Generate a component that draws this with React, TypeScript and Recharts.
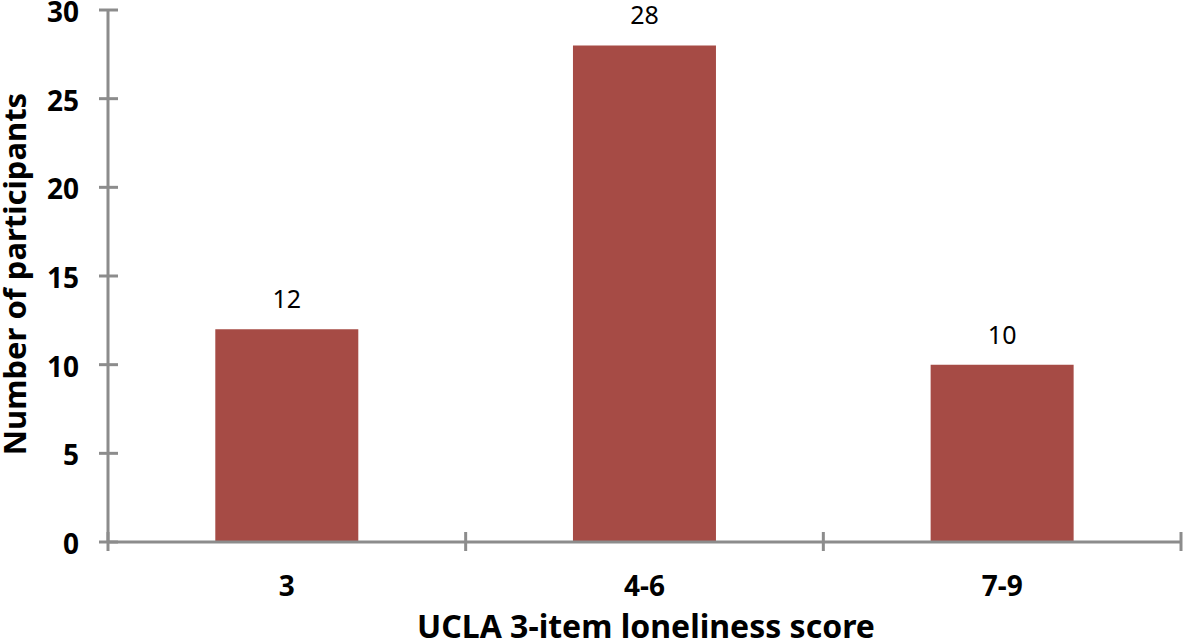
import { BarChart, Bar, XAxis, YAxis, LabelList } from "recharts";

const scoreGroups = ["3", "4-6", "7-9"];
const participants = [12, 28, 10];
const yTicks = [0, 5, 10, 15, 20, 25, 30];

const data = scoreGroups.map((g, i) => ({ group: g, count: participants[i] }));

const W = 1183;
const H = 643;
const LEFT = 108;
const RIGHT_MARGIN = 2;
const BAND = (W - LEFT - RIGHT_MARGIN) / scoreGroups.length;
const AXIS = "#8c8c8c";
const FONT = "'Noto Sans', sans-serif";

function YTick(props: any) {
  const { x, y, payload } = props;
  return (
    <g>
      <line x1={x - 9} x2={x + 10} y1={y} y2={y} stroke={AXIS} strokeWidth={3} />
      <text x={x - 29} y={y} dy={12} textAnchor="end" fontSize={28} fontWeight={700} fontFamily={FONT} fill="#000">
        {payload.value}
      </text>
    </g>
  );
}

function XTick(props: any) {
  const { x, y, payload, index } = props;
  const last = index === scoreGroups.length - 1;
  return (
    <g>
      <line x1={x - BAND / 2} x2={x - BAND / 2} y1={y - 10} y2={y + 9} stroke={AXIS} strokeWidth={3} />
      {last && <line x1={x + BAND / 2} x2={x + BAND / 2} y1={y - 10} y2={y + 9} stroke={AXIS} strokeWidth={3} />}
      <text x={x} y={y + 54} textAnchor="middle" fontSize={28} fontWeight={700} fontFamily={FONT} fill="#000">
        {payload.value}
      </text>
    </g>
  );
}

const yTitle = () => (
  <text
    transform="translate(26,274) rotate(-90)"
    textAnchor="middle"
    fontSize={31}
    fontWeight={700}
    fontFamily={FONT}
    fill="#000"
  >
    Number of participants
  </text>
);

const xTitle = () => (
  <text x={646} y={638} textAnchor="middle" fontSize={32} fontWeight={700} fontFamily={FONT} fill="#000">
    UCLA 3-item loneliness score
  </text>
);

export default function App() {
  return (
    <div style={{ position: "absolute", left: 0, top: 0, width: W, height: H, background: "#fff" }}>
      <BarChart
        width={W}
        height={H}
        data={data}
        margin={{ top: 10, right: RIGHT_MARGIN, left: 0, bottom: 0 }}
        barCategoryGap="30%"
      >
        <XAxis
          dataKey="group"
          height={101}
          tickLine={false}
          tickSize={0}
          tickMargin={0}
          axisLine={{ stroke: AXIS, strokeWidth: 3 }}
          tick={<XTick />}
          interval={0}
          label={{ content: xTitle }}
        />
        <YAxis
          width={LEFT}
          domain={[0, 30]}
          ticks={yTicks}
          tickLine={false}
          tickSize={0}
          tickMargin={0}
          axisLine={{ stroke: AXIS, strokeWidth: 3 }}
          tick={<YTick />}
          label={{ content: yTitle }}
        />
        <Bar dataKey="count" fill="#a64b45" isAnimationActive={false}>
          <LabelList dataKey="count" position="top" offset={21} fontSize={25} fontFamily={FONT} fill="#000" />
        </Bar>
      </BarChart>
    </div>
  );
}
